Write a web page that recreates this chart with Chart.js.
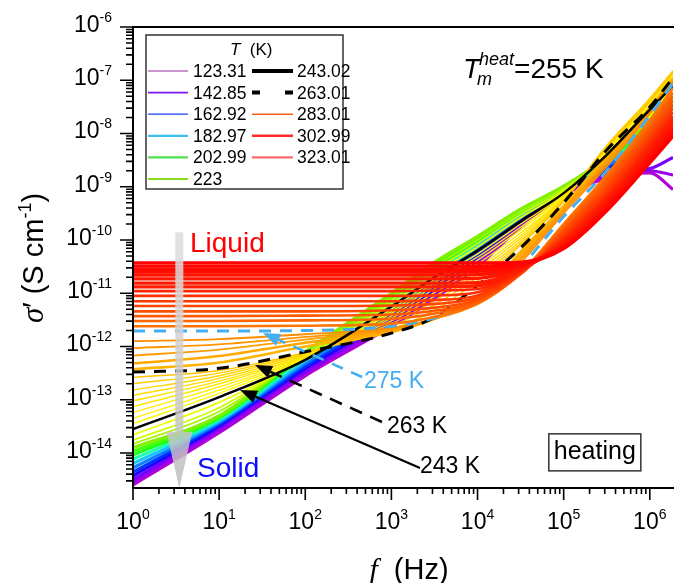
<!DOCTYPE html>
<html><head><meta charset="utf-8">
<script src="https://cdn.jsdelivr.net/npm/chart.js@4.4.1/dist/chart.umd.min.js"></script>
<style>html,body{margin:0;padding:0;background:#fff;overflow:hidden}canvas{display:block}</style>
</head><body>
<canvas id="c" width="674" height="583"></canvas>
<script>
// Frequency points (Hz)
const FREQ = [1, 10, 100, 1000, 3162, 10000, 31623, 100000, 316228, 1000000, 1860000];
// log10 of sigma' (S cm^-1) at each frequency above, one array per temperature (K)
// solid phase
const s123 = [-14.6, -13.62, -12.55, -11.62, -11.1, -10.5, -9.75, -9.15, -8.85, -8.74, -9.05];
const s133 = [-14.55, -13.57, -12.5, -11.57, -11.05, -10.45, -9.72, -9.13, -8.8, -8.7, -8.78];
const s143 = [-14.5, -13.53, -12.46, -11.52, -11.0, -10.4, -9.69, -9.11, -8.75, -8.66, -8.45];
const s153 = [-14.43, -13.49, -12.41, -11.46, -10.93, -10.32, -9.65, -9.09, -8.7, -8.3, -7.9];
const s163 = [-14.36, -13.46, -12.37, -11.4, -10.86, -10.25, -9.61, -9.07, -8.65, -8.2, -7.8];
const s173 = [-14.28, -13.43, -12.32, -11.33, -10.78, -10.18, -9.57, -9.06, -8.6, -8.1, -7.7];
const s183 = [-14.2, -13.4, -12.27, -11.26, -10.7, -10.12, -9.53, -9.05, -8.55, -8.0, -7.6];
const s193 = [-14.12, -13.37, -12.22, -11.19, -10.62, -10.06, -9.5, -9.03, -8.52, -7.92, -7.52];
const s203 = [-14.04, -13.34, -12.17, -11.12, -10.55, -10.01, -9.47, -9.02, -8.5, -7.86, -7.45];
const s213 = [-13.97, -13.32, -12.13, -11.06, -10.48, -9.97, -9.44, -9.0, -8.47, -7.8, -7.4];
const s223 = [-13.9, -13.3, -12.1, -11.0, -10.42, -9.93, -9.42, -8.99, -8.45, -7.75, -7.35];
// intermediate
const s228 = [-13.83, -13.22, -12.14, -11.07, -10.5, -10.0, -9.47, -9.03, -8.45, -7.72, -7.28];
const s233 = [-13.76, -13.15, -12.17, -11.13, -10.57, -10.06, -9.52, -9.06, -8.43, -7.67, -7.23];
const s238 = [-13.66, -13.05, -12.21, -11.19, -10.63, -10.13, -9.58, -9.09, -8.41, -7.61, -7.16];
const s243 = [-13.55, -12.95, -12.25, -11.25, -10.7, -10.2, -9.65, -9.12, -8.4, -7.55, -7.1];
const s245 = [-13.45, -12.88, -12.23, -11.3, -10.75, -10.26, -9.7, -9.14, -8.38, -7.5, -7.04];
const s247 = [-13.35, -12.82, -12.21, -11.34, -10.8, -10.32, -9.76, -9.16, -8.36, -7.46, -7.0];
const s249 = [-13.24, -12.76, -12.2, -11.38, -10.86, -10.38, -9.81, -9.18, -8.34, -7.43, -6.96];
const s251 = [-13.13, -12.7, -12.18, -11.43, -10.92, -10.45, -9.87, -9.2, -8.31, -7.4, -6.92];
const s253 = [-13.02, -12.65, -12.17, -11.47, -10.99, -10.52, -9.92, -9.21, -8.28, -7.37, -6.88];
const s255 = [-12.92, -12.6, -12.15, -11.52, -11.06, -10.58, -9.97, -9.23, -8.25, -7.35, -6.85];
const s257 = [-12.82, -12.55, -12.13, -11.57, -11.14, -10.64, -10.02, -9.25, -8.23, -7.34, -6.83];
const s259 = [-12.7, -12.5, -12.12, -11.62, -11.22, -10.7, -10.06, -9.26, -8.23, -7.35, -6.82];
const s261 = [-12.58, -12.45, -12.11, -11.68, -11.32, -10.77, -10.1, -9.28, -8.26, -7.4, -6.86];
const s263 = [-12.48, -12.41, -12.1, -11.75, -11.45, -10.85, -10.15, -9.3, -8.31, -7.5, -6.95];
const s264 = [-12.43, -12.3, -12.0, -11.73, -11.48, -11.1, -10.22, -9.36, -8.42, -7.52, -6.96];
const s266 = [-12.32, -12.18, -11.93, -11.71, -11.48, -11.12, -10.27, -9.4, -8.47, -7.55, -6.98];
const s268 = [-12.17, -12.06, -11.87, -11.69, -11.48, -11.14, -10.33, -9.43, -8.52, -7.58, -7.0];
const s270 = [-12.03, -11.96, -11.82, -11.67, -11.48, -11.16, -10.38, -9.46, -8.57, -7.6, -7.02];
const s272 = [-11.9, -11.86, -11.77, -11.65, -11.48, -11.18, -10.43, -9.5, -8.62, -7.63, -7.04];
const s275 = [-11.71, -11.71, -11.7, -11.62, -11.46, -11.15, -10.5, -9.56, -8.7, -7.66, -7.06];
// liquid
const s278 = [-11.62, -11.62, -11.61, -11.57, -11.44, -11.2, -10.62, -9.7, -8.78, -7.75, -7.15];
const s281 = [-11.52, -11.52, -11.51, -11.48, -11.38, -11.18, -10.63, -9.75, -8.84, -7.83, -7.23];
const s284 = [-11.43, -11.43, -11.42, -11.4, -11.33, -11.15, -10.64, -9.8, -8.9, -7.9, -7.3];
const s287 = [-11.34, -11.34, -11.34, -11.32, -11.27, -11.12, -10.64, -9.84, -8.96, -7.97, -7.38];
const s290 = [-11.24, -11.24, -11.24, -11.23, -11.2, -11.08, -10.63, -9.88, -9.02, -8.04, -7.46];
const s293 = [-11.15, -11.15, -11.15, -11.15, -11.13, -11.04, -10.62, -9.92, -9.08, -8.1, -7.53];
const s296 = [-11.05, -11.05, -11.05, -11.05, -11.04, -10.98, -10.6, -9.96, -9.14, -8.17, -7.6];
const s299 = [-10.96, -10.96, -10.96, -10.96, -10.95, -10.92, -10.58, -10.0, -9.19, -8.23, -7.67];
const s302 = [-10.88, -10.88, -10.88, -10.88, -10.88, -10.86, -10.56, -10.03, -9.24, -8.29, -7.73];
const s305 = [-10.81, -10.81, -10.81, -10.81, -10.81, -10.8, -10.54, -10.06, -9.28, -8.34, -7.79];
const s308 = [-10.73, -10.73, -10.73, -10.73, -10.73, -10.72, -10.52, -10.09, -9.32, -8.39, -7.85];
const s311 = [-10.66, -10.66, -10.66, -10.66, -10.66, -10.65, -10.5, -10.11, -9.36, -8.43, -7.9];
const s314 = [-10.6, -10.6, -10.6, -10.6, -10.6, -10.59, -10.48, -10.13, -9.39, -8.47, -7.95];
const s317 = [-10.55, -10.55, -10.55, -10.55, -10.55, -10.54, -10.46, -10.14, -9.41, -8.5, -7.99];
const s320 = [-10.49, -10.49, -10.49, -10.49, -10.49, -10.49, -10.44, -10.15, -9.43, -8.53, -8.02];
const s323 = [-10.43, -10.43, -10.43, -10.43, -10.43, -10.43, -10.42, -10.16, -9.45, -8.55, -8.05];

// drawing order (bottom -> top)
const SERIES = [
  [123, s123], [133, s133], [143, s143], [153, s153], [163, s163], [173, s173], [183, s183], [193, s193], [203, s203], [213, s213], [223, s223],
  [228, s228], [233, s233], [238, s238],
  [245, s245], [247, s247], [249, s249], [251, s251], [253, s253], [255, s255], [257, s257], [259, s259], [261, s261],
  [264, s264], [266, s266], [268, s268], [270, s270], [272, s272],
  [243, s243], [263, s263], [275, s275],
  [278, s278], [281, s281], [284, s284], [287, s287], [290, s290], [293, s293], [296, s296], [299, s299],
  [302, s302], [305, s305], [308, s308], [311, s311], [314, s314], [317, s317], [320, s320], [323, s323]
];

// legend
const LEG_LEFT = ['123.31', '142.85', '162.92', '182.97', '202.99', '223'];
const LEG_RIGHT = ['243.02', '263.01', '283.01', '302.99', '323.01'];

// axes
const X_MIN = 1, X_MAX = 1.86e6, Y_MIN = 2.2e-15, Y_MAX = 1e-6;
const X_DECADES = [0, 1, 2, 3, 4, 5, 6];
const Y_DECADES = [-14, -13, -12, -11, -10, -9, -8, -7, -6];

// ---------- styles ----------
const HUE_STOPS = [[123,290,42],[143,268,50],[163,228,50],[183,196,55],[203,122,55],[223,88,47],[235,68,50],[245,58,50],[255,52,50],[262,45,50],[268,37,50],[275,30,50],[285,20,50],[300,8,50],[323,0,50]];
function tColor(T) {
  for (let i = 0; i < HUE_STOPS.length - 1; i++) {
    const a = HUE_STOPS[i], b = HUE_STOPS[i + 1];
    if (T <= b[0]) {
      const k = Math.max(0, (T - a[0]) / (b[0] - a[0]));
      return `hsl(${a[1] + (b[1] - a[1]) * k},100%,${a[2] + (b[2] - a[2]) * k}%)`;
    }
  }
  return 'hsl(0,100%,50%)';
}
const LB = '#45aef0';
function styleFor(T) {
  if (T === 243) return {c: '#000', w: 2.5, d: []};
  if (T === 263) return {c: '#000', w: 3, d: [12, 9]};
  if (T === 275) return {c: LB, w: 3, d: [12, 9]};
  if (T <= 223) return {c: tColor(T), w: 3.2, d: []};
  if (T < 240) return {c: tColor(T), w: 1.8, d: []};
  if (T < 263) return {c: tColor(T), w: 1.4, d: []};
  if (T <= 266) return {c: tColor(T), w: 2.6, d: []};
  if (T < 275) return {c: tColor(T), w: 1.8, d: []};
  if (T >= 302) return {c: tColor(T), w: 3.4, d: []};
  return {c: tColor(T), w: 2.6, d: []};
}

const N = SERIES.length;
const datasets = SERIES.map(([T, arr], i) => {
  const s = styleFor(T);
  return {
    label: T + ' K',
    data: FREQ.map((f, j) => ({x: f, y: Math.pow(10, arr[j])})),
    borderColor: s.c, borderWidth: s.w, borderDash: s.d,
    pointRadius: 0, fill: false, cubicInterpolationMode: 'monotone',
    order: N - i
  };
});

// ---------- annotation anchors (data coordinates) ----------
const ARROW_GRAY = {f: 3.45, top: 1.4e-10, base: 2.5e-14, tip: 2.2e-15};
const PTR_275 = {from: [456, 2.67e-13], to: [32.3, 1.8e-12]};
const PTR_263 = {from: [778, 3.82e-14], to: [26.1, 4.5e-13]};
const PTR_243 = {from: [2148, 5.25e-15], to: [17.5, 1.52e-13]};
const LBL_LIQUID = [4.59, 9.1e-11];
const LBL_SOLID = [5.53, 5.46e-15];
const LBL_275 = [481, 2.35e-13];
const LBL_263 = [889, 3.36e-14];
const LBL_243 = [2148, 5.95e-15];
const LBL_TM = [6780, 1.1e-7];
const LBL_HEAT = [2.3e5, 1.05e-14];

const SANS = '"Liberation Sans", Arial, sans-serif';
const SERIF = '"Liberation Serif", "Times New Roman", serif';

function drawRuns(ctx, x, y, runs, align) {
  let w = 0;
  runs.forEach(r => { ctx.font = r.font; r.w = ctx.measureText(r.t).width; w += r.w; });
  let cx = align === 'center' ? x - w / 2 : (align === 'right' ? x - w : x);
  ctx.textAlign = 'left'; ctx.textBaseline = 'alphabetic';
  runs.forEach(r => { ctx.font = r.font; ctx.fillStyle = r.color || '#000'; ctx.fillText(r.t, cx, y + (r.dy || 0)); cx += r.w; });
  return w;
}

function pointer(ctx, X, Y, p, color, dash, width) {
  const x0 = X(p.from[0]), y0 = Y(p.from[1]), x1 = X(p.to[0]), y1 = Y(p.to[1]);
  const ang = Math.atan2(y1 - y0, x1 - x0);
  const L = 17, H = 6.5;
  const bx = x1 - L * Math.cos(ang), by = y1 - L * Math.sin(ang);
  ctx.save();
  ctx.strokeStyle = color; ctx.lineWidth = width; ctx.setLineDash(dash);
  ctx.beginPath(); ctx.moveTo(x0, y0); ctx.lineTo(bx, by); ctx.stroke();
  ctx.setLineDash([]); ctx.fillStyle = color;
  ctx.beginPath();
  ctx.moveTo(x1, y1);
  ctx.lineTo(bx + H * Math.sin(ang), by - H * Math.cos(ang));
  ctx.lineTo(bx - H * Math.sin(ang), by + H * Math.cos(ang));
  ctx.closePath(); ctx.fill();
  ctx.restore();
}

const decor = {
  id: 'decor',
  beforeDraw(chart) {
    const ctx = chart.ctx;
    ctx.save(); ctx.fillStyle = '#fff'; ctx.fillRect(0, 0, chart.width, chart.height); ctx.restore();
  },
  afterDatasetsDraw(chart) {
    const {ctx, scales: {x, y}} = chart;
    const X = v => x.getPixelForValue(v), Y = v => y.getPixelForValue(v);
    // gray arrow
    const xc = X(ARROW_GRAY.f), yt = Y(ARROW_GRAY.top), yb = Y(ARROW_GRAY.base), yp = Y(ARROW_GRAY.tip);
    ctx.save();
    const g = ctx.createLinearGradient(0, yt, 0, yp);
    g.addColorStop(0, 'rgba(222,222,222,0.85)');
    g.addColorStop(1, 'rgba(190,190,190,0.85)');
    ctx.fillStyle = g;
    ctx.beginPath();
    ctx.moveTo(xc - 4, yt); ctx.lineTo(xc + 4, yt); ctx.lineTo(xc + 4, yb);
    ctx.lineTo(xc + 13, yb); ctx.lineTo(xc, yp); ctx.lineTo(xc - 13, yb); ctx.lineTo(xc - 4, yb);
    ctx.closePath(); ctx.fill();
    ctx.restore();
    // pointers
    pointer(ctx, X, Y, PTR_275, LB, [12, 9], 2.6);
    pointer(ctx, X, Y, PTR_263, '#000', [13, 9], 2.6);
    pointer(ctx, X, Y, PTR_243, '#000', [], 2.2);
  },
  afterDraw(chart) {
    const {ctx, chartArea: a, scales: {x, y}} = chart;
    const X = v => x.getPixelForValue(v), Y = v => y.getPixelForValue(v);
    ctx.save();
    // labels
    drawRuns(ctx, X(LBL_LIQUID[0]), Y(LBL_LIQUID[1]) + 10, [{t: 'Liquid', font: '28px ' + SANS, color: '#ff0000'}], 'left');
    drawRuns(ctx, X(LBL_SOLID[0]), Y(LBL_SOLID[1]) + 10, [{t: 'Solid', font: '28px ' + SANS, color: '#0c0cff'}], 'left');
    drawRuns(ctx, X(LBL_275[0]), Y(LBL_275[1]) + 8, [{t: '275 K', font: '23px ' + SANS, color: LB}], 'left');
    drawRuns(ctx, X(LBL_263[0]), Y(LBL_263[1]) + 8, [{t: '263 K', font: '23px ' + SANS}], 'left');
    drawRuns(ctx, X(LBL_243[0]), Y(LBL_243[1]) + 8, [{t: '243 K', font: '23px ' + SANS}], 'left');
    // T_m^heat
    const tx = X(LBL_TM[0]), ty = Y(LBL_TM[1]);
    ctx.font = 'italic 28px ' + SANS; ctx.fillStyle = '#000'; ctx.textAlign = 'left'; ctx.textBaseline = 'alphabetic';
    ctx.fillText('T', tx, ty);
    const tw = ctx.measureText('T').width;
    ctx.font = 'italic 18px ' + SANS;
    ctx.fillText('heat', tx + tw - 1, ty - 13);
    const hw = ctx.measureText('heat').width;
    ctx.fillText('m', tx + tw - 3, ty + 7);
    ctx.font = '28px ' + SANS;
    ctx.fillText('=255 K', tx + tw - 1 + hw, ty);
    // heating box
    const hx = X(LBL_HEAT[0]), hy = Y(LBL_HEAT[1]);
    ctx.font = '25px ' + SANS;
    const htw = ctx.measureText('heating').width;
    ctx.strokeStyle = '#333'; ctx.lineWidth = 1.5;
    ctx.strokeRect(hx - htw / 2 - 5, hy - 18, htw + 10, 37);
    ctx.fillStyle = '#000';
    ctx.fillText('heating', hx - htw / 2, hy + 7);

    // legend box
    const lx = a.left + 13, ly = a.top + 8;
    ctx.strokeStyle = '#333'; ctx.lineWidth = 1.5;
    ctx.strokeRect(lx, ly, 197, 154);
    drawRuns(ctx, lx + 84, ly + 20, [{t: 'T', font: 'italic 17px ' + SANS}, {t: '  (K)', font: '17px ' + SANS}], 'left');
    const LCOL = ['#9a2ba8', '#7d1cf0', '#1f3cf5', '#36c0ee', '#4fe04f', '#8cdc1e'];
    const LW = [1.2, 1.6, 1.2, 2.2, 2.2, 2.2];
    const RCOL = ['#000', '#000', '#ff5a14', '#ff2a2a', '#ff6a6a'];
    const RW = [4, 4, 1.6, 2.6, 2.2];
    const RD = [[], [8, 25], [], [], []];
    const rowY = i => ly + 42 + i * 21.6;
    LEG_LEFT.forEach((t, i) => {
      const yy = rowY(i);
      ctx.strokeStyle = LCOL[i]; ctx.lineWidth = LW[i]; ctx.setLineDash([]);
      ctx.beginPath(); ctx.moveTo(lx + 2, yy - 6); ctx.lineTo(lx + 42, yy - 6); ctx.stroke();
      drawRuns(ctx, lx + 47, yy, [{t: t, font: '17.5px ' + SANS}], 'left');
    });
    LEG_RIGHT.forEach((t, i) => {
      const yy = rowY(i);
      ctx.strokeStyle = RCOL[i]; ctx.lineWidth = RW[i]; ctx.setLineDash(RD[i]);
      ctx.beginPath(); ctx.moveTo(lx + 106, yy - 6); ctx.lineTo(lx + 147, yy - 6); ctx.stroke();
      ctx.setLineDash([]);
      drawRuns(ctx, lx + 151, yy, [{t: t, font: '17.5px ' + SANS}], 'left');
    });

    // axes
    ctx.strokeStyle = '#000'; ctx.setLineDash([]);
    ctx.lineWidth = 2;
    ctx.beginPath();
    ctx.moveTo(a.left, a.top); ctx.lineTo(a.right + 2, a.top);
    ctx.moveTo(a.left, a.top - 1); ctx.lineTo(a.left, a.bottom + 1);
    ctx.moveTo(a.left - 1, a.bottom); ctx.lineTo(a.right + 2, a.bottom);
    ctx.stroke();
    ctx.lineWidth = 1.6;
    ctx.beginPath();
    for (let e = 0; e <= 7; e++) for (let m = 1; m <= 9; m++) {
      const v = m * Math.pow(10, e);
      if (v < X_MIN || v > X_MAX) continue;
      const px = X(v), len = m === 1 ? 12 : 6;
      ctx.moveTo(px, a.bottom); ctx.lineTo(px, a.bottom + len);
    }
    for (let e = -15; e <= -6; e++) for (let m = 1; m <= 9; m++) {
      const v = m * Math.pow(10, e);
      if (v < Y_MIN * 0.999 || v > Y_MAX * 1.001) continue;
      const py = Y(v), len = m === 1 ? 13 : 7;
      ctx.moveTo(a.left, py); ctx.lineTo(a.left - len, py);
    }
    ctx.stroke();
    X_DECADES.forEach(e => {
      drawRuns(ctx, X(Math.pow(10, e)), a.bottom + 41, [{t: '10', font: '23px ' + SANS}, {t: String(e), font: '14px ' + SANS, dy: -10}], 'center');
    });
    Y_DECADES.forEach(e => {
      drawRuns(ctx, a.left - 21, Y(Math.pow(10, e)) + 5, [{t: '10', font: '23px ' + SANS}, {t: String(e), font: '14px ' + SANS, dy: -10}], 'right');
    });
    // axis titles
    drawRuns(ctx, (a.left + a.right) / 2 + 6, 579, [{t: 'f', font: 'italic 30px ' + SERIF}, {t: '  (Hz)', font: '29px ' + SANS}], 'center');
    ctx.save();
    ctx.translate(43, 258);
    ctx.rotate(-Math.PI / 2);
    drawRuns(ctx, 0, 0, [{t: 'σ', font: 'italic 31px ' + SERIF}, {t: '′', font: '29px ' + SANS}, {t: ' (S cm', font: '29px ' + SANS}, {t: '-1', font: '18px ' + SANS, dy: -12}, {t: ')', font: '29px ' + SANS}], 'center');
    ctx.restore();
    ctx.restore();
  }
};

new Chart(document.getElementById('c'), {
  type: 'line',
  data: {datasets},
  options: {
    responsive: false, animation: false, devicePixelRatio: 1,
    parsing: false, normalized: true,
    layout: {padding: {left: 133, right: 1, top: 27, bottom: 95}},
    scales: {
      x: {type: 'logarithmic', min: X_MIN, max: X_MAX, display: false},
      y: {type: 'logarithmic', min: Y_MIN, max: Y_MAX, display: false}
    },
    plugins: {legend: {display: false}, tooltip: {enabled: false}},
    elements: {line: {tension: 0.3}}
  },
  plugins: [decor]
});
</script>
</body></html>
